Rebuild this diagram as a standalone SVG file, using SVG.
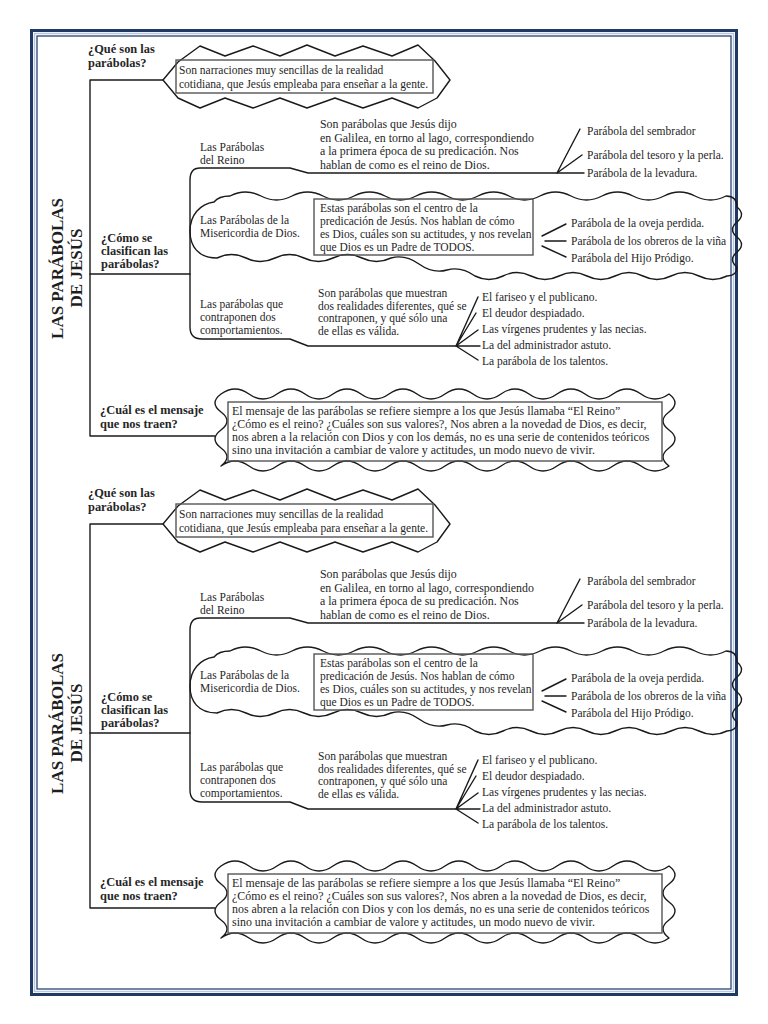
<svg xmlns="http://www.w3.org/2000/svg" width="768" height="1024" viewBox="0 0 768 1024">
<style>
text{font-family:"Liberation Serif","Times New Roman",serif;fill:#262626}
.t{font-size:11.5px}
.d{font-size:11.9px}
.b{font-size:12.4px;font-weight:bold}
.ti{font-size:17px;font-weight:bold;fill:#1e1e1e}
.ln{fill:none;stroke:#1a1a1a;stroke-width:1.4;stroke-linejoin:round;stroke-linecap:round}
.sh{fill:none;stroke:#1a1a1a;stroke-width:1.4;stroke-linejoin:round}
.bx{fill:none;stroke:#555;stroke-width:1.4}
</style>
<defs>
<polygon id="zig" class="sh" points="163,80 178,62 200,46 225,56 253,46 280,56 307,45 335,56 363,46 392,56 418,45 435,61 450,80 437,98 418,108 392,98 363,108 335,98 307,108 280,98 253,108 225,98 200,108 178,98"/>
<path id="wave" class="sh" d="M214,202 C218,197 223,196 230,196 Q245.5,188 261,196 T292,196 T323,196 T354,196 T385,196 T416,196 T447,196 T478,196 T509,196 T540,196 T571,196 T602,196 T633,196 T664,196 T695,196 T726,196 Q737,196 737,207 Q746,214.5 737,222 T737,237 T737,252 T737,267 Q737,276 727,276 Q713,283 699,276 T671,276 T643,276 T615,276 T587,276 T559,276 T531,276 T503,276 T475,276 Q461,266 447,270 Q433,274 419,264 Q405,254 391,258 Q376.5,265 362,258 Q347.5,251 333,258 Q318.5,265 304,258 Q289.5,251 275,258 Q260.5,265 246,258 Q231.5,251 217,258 C198,258 190,246 190,231 C190,215 200,204 214,202 Z"/>
<path id="cloud" class="sh" d="M221,394 Q235,384 249,394 T277,394 T305,394 T333,394 T361,394 T389,394 T417,394 T445,394 T473,394 T501,394 T529,394 T557,394 T585,394 T613,394 T641,394 T669,394 Q681,403 669,412 T669,430 T669,448 T669,466 Q655,476 641,466 T613,466 T585,466 T557,466 T529,466 T501,466 T473,466 T445,466 T417,466 T389,466 T361,466 T333,466 T305,466 T277,466 T249,466 T221,466 Q233,457 221,448 T221,430 T221,412 T221,394 Z"/>
</defs>
<rect width="768" height="1024" fill="#fff"/>
<g id="frame">
<rect x="31.5" y="30.5" width="705" height="964" fill="none" stroke="#1f3864" stroke-width="3"/>
<rect x="34.5" y="33.5" width="699" height="958" fill="none" stroke="#b7c7e3" stroke-width="1.5"/>
<rect x="37" y="36" width="694" height="953" fill="none" stroke="#2b4574" stroke-width="1.3"/>
</g>
<g id="connectors">
<path class="ln" d="M163,80 H90 V436 H215"/>
<path class="ln" d="M90,274 H190"/>
<path class="ln" d="M584,173 H308 L290,168 H200 Q190,168 190,180 V327 Q190,339 202,339 H290 L308,346 H456"/>
<path class="ln" d="M557,173 L580,129 M557,173 L582,155"/>
<path class="ln" d="M542,236 L566,224 M545,241 H566 M542,246 L566,257"/>
<path class="ln" d="M456,346 L478,297 M456,346 L476,313 M456,346 L478,330 M456,346 H480 M456,346 L478,360"/>
<path class="ln" d="M163,524 H90 V908 H215"/>
<path class="ln" d="M90,733 H190"/>
<path class="ln" d="M584,623 H308 L290,618 H200 Q190,618 190,630 V790 Q190,802 202,802 H290 L308,809 H456"/>
<path class="ln" d="M557,623 L580,579 M557,623 L582,605"/>
<path class="ln" d="M542,691 L566,679 M545,696 H566 M542,701 L566,712"/>
<path class="ln" d="M456,809 L478,760 M456,809 L476,776 M456,809 L478,793 M456,809 H480 M456,809 L478,823"/>
</g>
<g id="title1">
<text class="ti" text-anchor="middle" transform="translate(63,268.5) rotate(-90)">LAS PARÁBOLAS</text>
<text class="ti" text-anchor="middle" transform="translate(81.5,268) rotate(-90)">DE JESÚS</text>
</g>
<g id="q1-label"><text class="b" x="88" y="53">¿Qué son las</text><text class="b" x="88" y="67">parábolas?</text></g>
<g id="q1-def">
<use href="#zig"/>
<rect class="bx" x="176" y="60" width="257" height="33"/>
<text class="t" x="179" y="73.5">Son narraciones muy sencillas de la realidad</text>
<text class="t" x="179" y="87.5">cotidiana, que Jesús empleaba para enseñar a la gente.</text>
</g>
<g id="q1-reino">
<text class="t" x="200" y="151">Las Parábolas</text>
<text class="t" x="200" y="164">del Reino</text>
<text class="d" x="320" y="128">Son parábolas que Jesús dijo</text>
<text class="d" x="320" y="141.5">en Galilea, en torno al lago, correspondiendo</text>
<text class="d" x="320" y="155">a la primera época de su predicación. Nos</text>
<text class="d" x="320" y="168.5">hablan de como es el reino de Dios.</text>
<text class="t" x="587" y="135">Parábola del sembrador</text>
<text class="t" x="587" y="158.5">Parábola del tesoro y la perla.</text>
<text class="t" x="587" y="177">Parábola de la levadura.</text>
</g>
<g id="q1-miser">
<use href="#wave"/>
<text class="t" x="200" y="224">Las Parábolas de la</text>
<text class="t" x="200" y="237">Misericordia de Dios.</text>
<rect class="bx" x="314" y="199" width="219" height="56"/>
<text class="t" x="320" y="212">Estas parábolas son el centro de la</text>
<text class="t" x="320" y="225">predicación de Jesús. Nos hablan de cómo</text>
<text class="t" x="320" y="238">es Dios, cuáles son su actitudes, y nos revelan</text>
<text class="t" x="320" y="251">que Dios es un Padre de TODOS.</text>
<text class="t" x="571" y="227">Parábola de la oveja perdida.</text>
<text class="t" x="571" y="245">Parábola de los obreros de la viña</text>
<text class="t" x="571" y="262">Parábola del Hijo Pródigo.</text>
</g>
<g id="q1-como"><text class="b" x="101" y="242">¿Cómo se</text><text class="b" x="101" y="255">clasifican las</text><text class="b" x="101" y="268">parábolas?</text></g>
<g id="q1-contra">
<text class="t" x="200" y="308">Las parábolas que</text>
<text class="t" x="200" y="321">contraponen dos</text>
<text class="t" x="200" y="334">comportamientos.</text>
<text class="t" x="318" y="297">Son parábolas que muestran</text>
<text class="t" x="318" y="309.5">dos realidades diferentes, qué se</text>
<text class="t" x="318" y="322">contraponen, y qué sólo una</text>
<text class="t" x="318" y="335">de ellas es válida.</text>
<text class="t" x="482" y="301">El fariseo y el publicano.</text>
<text class="t" x="482" y="317">El deudor despiadado.</text>
<text class="t" x="482" y="333">Las vírgenes prudentes y las necias.</text>
<text class="t" x="482" y="349">La del administrador astuto.</text>
<text class="t" x="482" y="365">La parábola de los talentos.</text>
</g>
<g id="q1-cual-label"><text class="b" x="100" y="414">¿Cuál es el mensaje</text><text class="b" x="100" y="428">que nos traen?</text></g>
<g id="q1-cual-msg">
<use href="#cloud"/>
<rect class="bx" x="228" y="402" width="434" height="59"/>
<text class="d" x="232" y="414.5">El mensaje de las parábolas se refiere siempre a los que Jesús llamaba “El Reino”</text>
<text class="d" x="232" y="427.5">¿Cómo es el reino? ¿Cuáles son sus valores?, Nos abren a la novedad de Dios, es decir,</text>
<text class="d" x="232" y="440.5">nos abren a la relación con Dios y con los demás, no es una serie de contenidos teóricos</text>
<text class="d" x="232" y="453.5">sino una invitación a cambiar de valore y actitudes, un modo nuevo de vivir.</text>
</g>
<g id="title2" transform="translate(0,455)">
<text class="ti" text-anchor="middle" transform="translate(63,268.5) rotate(-90)">LAS PARÁBOLAS</text>
<text class="ti" text-anchor="middle" transform="translate(81.5,268) rotate(-90)">DE JESÚS</text>
</g>
<g id="q2-label" transform="translate(0,444)"><text class="b" x="88" y="53">¿Qué son las</text><text class="b" x="88" y="67">parábolas?</text></g>
<g id="q2-def" transform="translate(0,444)">
<use href="#zig"/>
<rect class="bx" x="176" y="60" width="257" height="33"/>
<text class="t" x="179" y="73.5">Son narraciones muy sencillas de la realidad</text>
<text class="t" x="179" y="87.5">cotidiana, que Jesús empleaba para enseñar a la gente.</text>
</g>
<g id="q2-reino" transform="translate(0,450)">
<text class="t" x="200" y="151">Las Parábolas</text>
<text class="t" x="200" y="164">del Reino</text>
<text class="d" x="320" y="128">Son parábolas que Jesús dijo</text>
<text class="d" x="320" y="141.5">en Galilea, en torno al lago, correspondiendo</text>
<text class="d" x="320" y="155">a la primera época de su predicación. Nos</text>
<text class="d" x="320" y="168.5">hablan de como es el reino de Dios.</text>
<text class="t" x="587" y="135">Parábola del sembrador</text>
<text class="t" x="587" y="158.5">Parábola del tesoro y la perla.</text>
<text class="t" x="587" y="177">Parábola de la levadura.</text>
</g>
<g id="q2-miser" transform="translate(0,455)">
<use href="#wave"/>
<text class="t" x="200" y="224">Las Parábolas de la</text>
<text class="t" x="200" y="237">Misericordia de Dios.</text>
<rect class="bx" x="314" y="199" width="219" height="56"/>
<text class="t" x="320" y="212">Estas parábolas son el centro de la</text>
<text class="t" x="320" y="225">predicación de Jesús. Nos hablan de cómo</text>
<text class="t" x="320" y="238">es Dios, cuáles son su actitudes, y nos revelan</text>
<text class="t" x="320" y="251">que Dios es un Padre de TODOS.</text>
<text class="t" x="571" y="227">Parábola de la oveja perdida.</text>
<text class="t" x="571" y="245">Parábola de los obreros de la viña</text>
<text class="t" x="571" y="262">Parábola del Hijo Pródigo.</text>
</g>
<g id="q2-como" transform="translate(0,459)"><text class="b" x="101" y="242">¿Cómo se</text><text class="b" x="101" y="255">clasifican las</text><text class="b" x="101" y="268">parábolas?</text></g>
<g id="q2-contra" transform="translate(0,463)">
<text class="t" x="200" y="308">Las parábolas que</text>
<text class="t" x="200" y="321">contraponen dos</text>
<text class="t" x="200" y="334">comportamientos.</text>
<text class="t" x="318" y="297">Son parábolas que muestran</text>
<text class="t" x="318" y="309.5">dos realidades diferentes, qué se</text>
<text class="t" x="318" y="322">contraponen, y qué sólo una</text>
<text class="t" x="318" y="335">de ellas es válida.</text>
<text class="t" x="482" y="301">El fariseo y el publicano.</text>
<text class="t" x="482" y="317">El deudor despiadado.</text>
<text class="t" x="482" y="333">Las vírgenes prudentes y las necias.</text>
<text class="t" x="482" y="349">La del administrador astuto.</text>
<text class="t" x="482" y="365">La parábola de los talentos.</text>
</g>
<g id="q2-cual-label" transform="translate(0,472)"><text class="b" x="100" y="414">¿Cuál es el mensaje</text><text class="b" x="100" y="428">que nos traen?</text></g>
<g id="q2-cual-msg" transform="translate(0,472)">
<use href="#cloud"/>
<rect class="bx" x="228" y="402" width="434" height="59"/>
<text class="d" x="232" y="414.5">El mensaje de las parábolas se refiere siempre a los que Jesús llamaba “El Reino”</text>
<text class="d" x="232" y="427.5">¿Cómo es el reino? ¿Cuáles son sus valores?, Nos abren a la novedad de Dios, es decir,</text>
<text class="d" x="232" y="440.5">nos abren a la relación con Dios y con los demás, no es una serie de contenidos teóricos</text>
<text class="d" x="232" y="453.5">sino una invitación a cambiar de valore y actitudes, un modo nuevo de vivir.</text>
</g>
</svg>
